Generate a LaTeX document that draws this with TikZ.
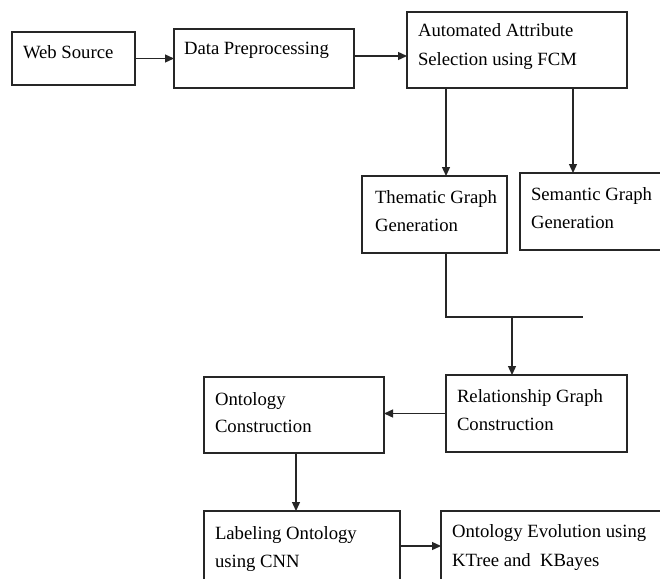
\documentclass[tikz,border=0pt]{standalone}
\usepackage{fontspec}
\setmainfont{Liberation Serif}
\usetikzlibrary{arrows.meta,calc}
\tikzset{
  box/.style={draw=black!85, line width=1.2pt, rectangle, inner sep=0pt, outer sep=0pt, anchor=north west},
  txt/.style={anchor=base west, inner sep=0pt, outer sep=0pt, text=black, font=\fontsize{18.7}{28}\selectfont},
  conn/.style={draw=black!85, line width=1.3pt},
  arr/.style={conn, -{Triangle[length=9pt,width=8pt]}}
}
\begin{document}
\begin{tikzpicture}[x=1pt,y=-1pt]
\useasboundingbox (0,0) rectangle (660,578);
\fill[white] (0,0) rectangle (660,578);
\clip (0,0) rectangle (660,578);

% boxes
\node[box, minimum width=123pt, minimum height=53pt] (web) at (12,32) {};
\node[box, minimum width=180pt, minimum height=59pt] (data) at (174,29) {};
\node[box, minimum width=220pt, minimum height=76pt] (auto) at (407,12) {};
\node[box, minimum width=145pt, minimum height=77pt] (them) at (362,176) {};
\node[box, minimum width=150pt, minimum height=77pt] (sem) at (520,173) {};
\node[box, minimum width=181pt, minimum height=77pt] (rel) at (446,375) {};
\node[box, minimum width=180pt, minimum height=76pt] (ont) at (204,377) {};
\node[box, minimum width=196pt, minimum height=80pt] (lab) at (204,511) {};
\node[box, minimum width=230pt, minimum height=80pt] (evo) at (441,511) {};

% texts
\node[txt] (webT) at (23,59) {Web Source};
\node[txt] (dataT) at (184,54) {Data Preprocessing};
\node[txt] (autoT1) at (418,37) {Automated Attribute};
\node[txt] (autoT2) at (418,65) {Selection using FCM};
\node[txt] (themT1) at (375,203) {Thematic Graph};
\node[txt] (themT2) at (375,231) {Generation};
\node[txt] (semT1) at (531,200) {Semantic Graph};
\node[txt] (semT2) at (531,228) {Generation};
\node[txt] (relT1) at (457,402) {Relationship Graph};
\node[txt] (relT2) at (457,430) {Construction};
\node[txt] (ontT1) at (215,405) {Ontology};
\node[txt] (ontT2) at (215,432) {Construction};
\node[txt] (labT1) at (215,539) {Labeling Ontology};
\node[txt] (labT2) at (215,567) {using CNN};
\node[txt] (evoT1) at (452,537) {Ontology Evolution using};
\node[txt] (evoT2) at (452,566) {KTree and\ \ KBayes};

% connectors
\draw[arr] (web.east) -- (data.west |- web.east);
\draw[arr] ([yshift=2.5pt]data.east) -- ([yshift=-6pt]auto.west);
\draw[arr] ([xshift=39pt]auto.south west) -- ([xshift=84pt]them.north west);
\draw[arr] ([xshift=166pt]auto.south west) -- ([xshift=53pt]sem.north west);
\coordinate (j1) at (512,317);
\coordinate (j2) at (583,317);
\draw[conn] ([xshift=84pt]them.south west) |- (j2);
\draw[arr] (j1) -- ([xshift=66pt]rel.north west);
\draw[arr] (rel.west) -- (ont.east |- rel.west);
\draw[arr] ([xshift=92pt]ont.south west) -- ([xshift=92pt]lab.north west);
\draw[arr] ([yshift=-35pt]lab.north east) -- ([yshift=-35pt]evo.north west);
\end{tikzpicture}
\end{document}
